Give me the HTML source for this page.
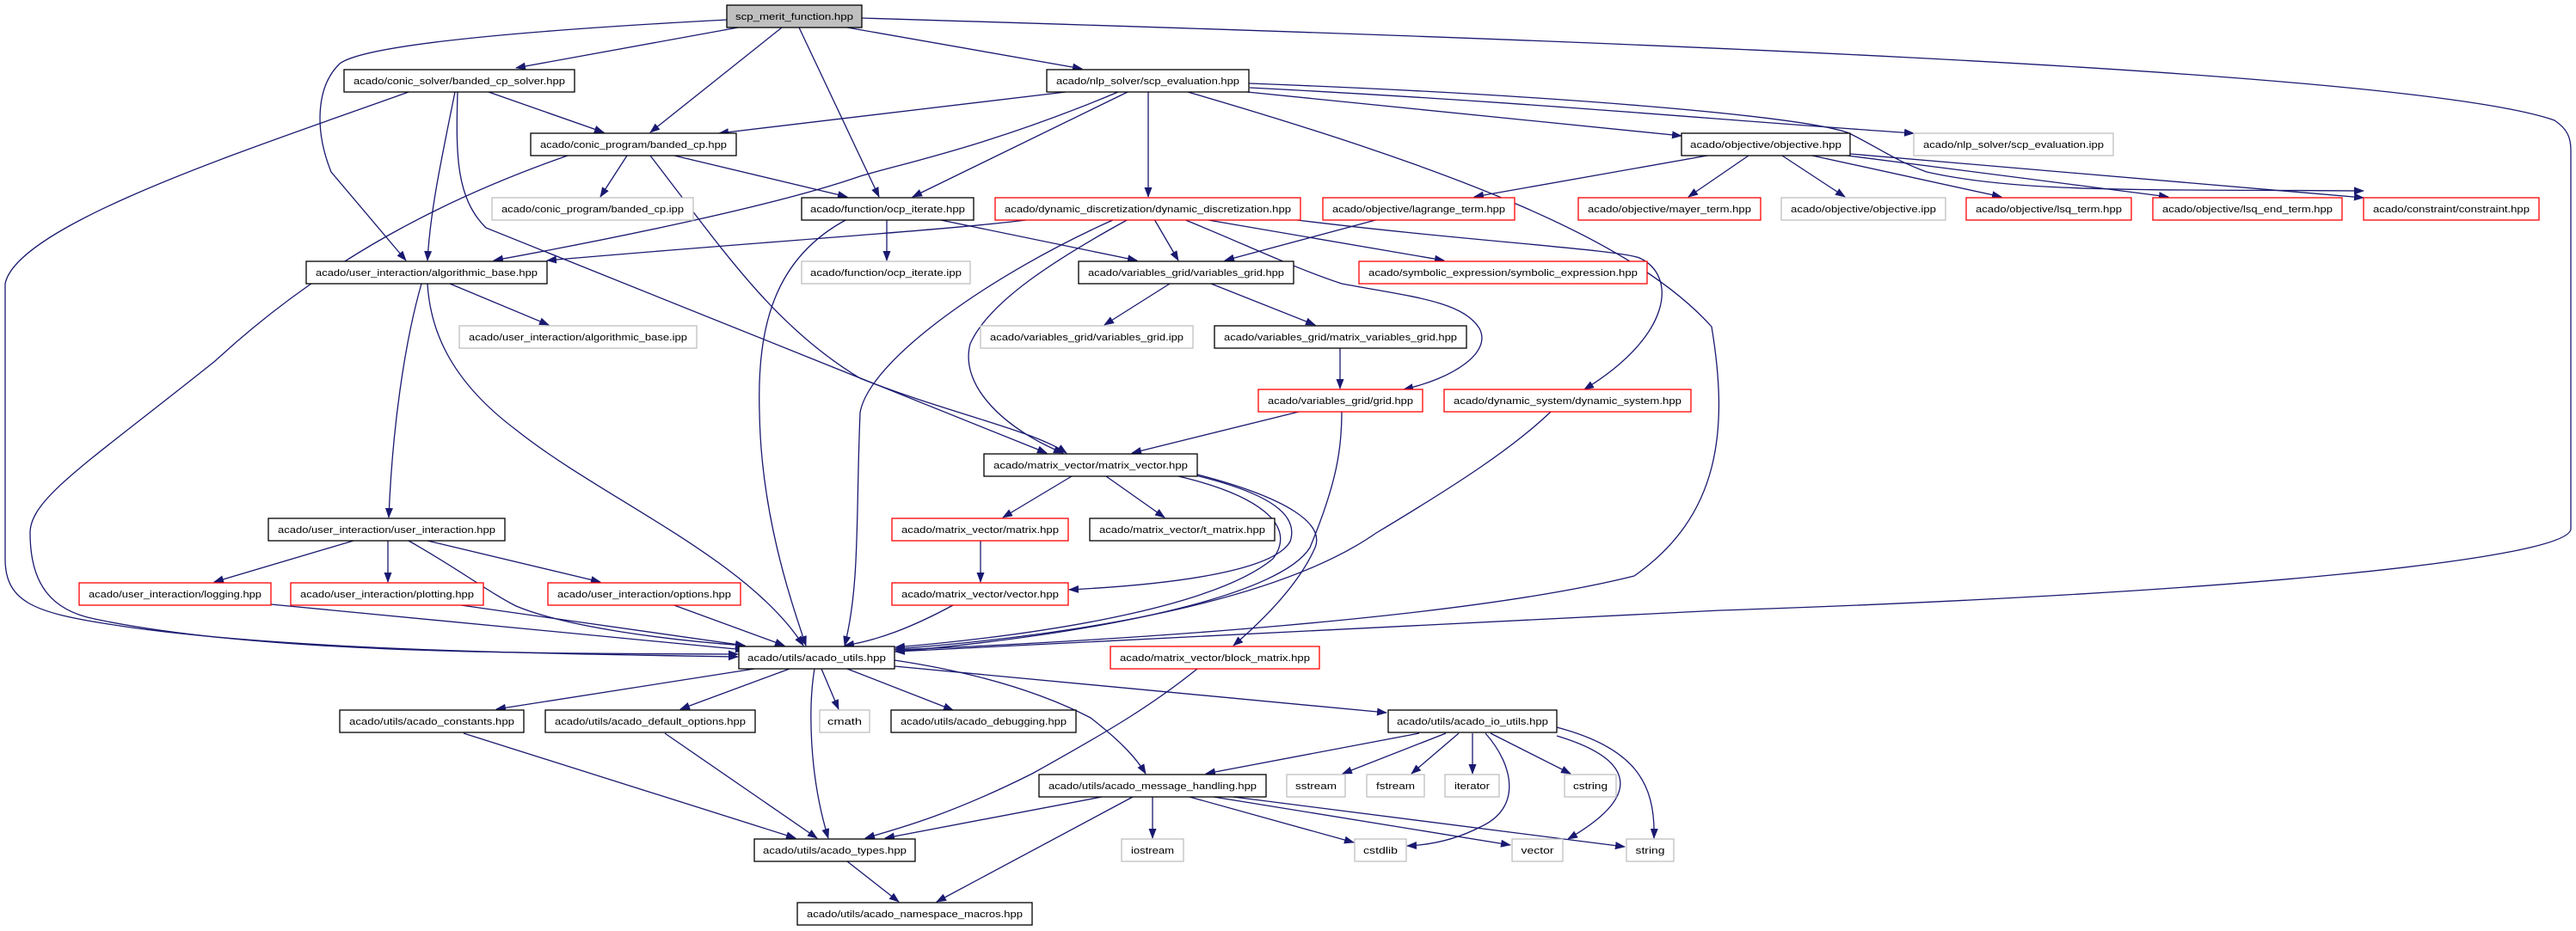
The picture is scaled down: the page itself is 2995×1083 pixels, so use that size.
<!DOCTYPE html>
<html><head><meta charset="utf-8"><style>
html,body{margin:0;padding:0;background:#fff;}
svg{display:block;}
text{font-family:"Liberation Sans",sans-serif;font-size:11px;fill:#000;}
.e{fill:none;stroke:#191970;stroke-width:1.3;}
.n{fill:#fff;stroke:#000;stroke-width:1.3;}
.r{fill:#fff;stroke:#ff0000;stroke-width:1.3;}
.g{fill:#fff;stroke:#bfbfbf;stroke-width:1.3;}
</style></head><body>
<svg width="2995" height="1083" viewBox="0 0 2995 1083" xmlns="http://www.w3.org/2000/svg">
<defs><marker id="a" markerUnits="userSpaceOnUse" markerWidth="12" markerHeight="9" refX="11" refY="4.5" orient="auto"><path d="M0,0 L12,4.5 L0,9 z" fill="#191970"/></marker></defs>
<g class="e" marker-end="url(#a)">
<path d="M858,32 L600,79"/>
<path d="M909,32 L756,154"/>
<path d="M929,32 L1022,229"/>
<path d="M845,23 C560,38 420,55 395,74 C368,100 365,150 385,200 L472,303"/>
<path d="M985,32 L1258,80"/>
<path d="M1002,21 C1800,45 2800,80 2970,140 C2985,150 2989,160 2989,175 L2989,615 C2989,650 2600,690 2000,710 L1041,758"/>
<path d="M568,107 L702,154"/>
<path d="M529,107 C510,200 500,250 497,303"/>
<path d="M532,107 C530,180 530,230 565,265 L1217,527"/>
<path d="M475,107 C300,170 20,260 6,330 L6,650 C6,700 40,712 120,725 C300,755 600,760 858,764"/>
<path d="M660,181 C520,230 380,300 250,420 C100,540 35,580 35,620 C35,680 60,710 110,720 C300,760 600,760 858,761"/>
<path d="M729,181 L698,229"/>
<path d="M784,181 L985,229"/>
<path d="M756,181 C840,290 900,380 1000,440 C1100,480 1200,500 1240,527"/>
<path d="M1239,107 L836,155"/>
<path d="M1300,107 C1150,170 1050,190 1000,205 C900,240 700,280 574,303"/>
<path d="M1311,107 L1061,229"/>
<path d="M1335,107 L1335,229"/>
<path d="M1381,107 C1700,200 1900,280 1990,380 C2010,500 2000,600 1900,670 C1700,720 1300,745 1041,756"/>
<path d="M1450,107 L1955,158"/>
<path d="M1453,102 C1800,120 2000,140 2225,155"/>
<path d="M1452,97 C1800,110 2100,135 2150,155 C2190,175 2200,185 2240,200 C2350,225 2500,220 2748,222"/>
<path d="M1985,181 L1714,229"/>
<path d="M2033,181 L1963,229"/>
<path d="M2072,181 L2145,229"/>
<path d="M2107,181 L2327,229"/>
<path d="M2148,181 L2521,229"/>
<path d="M2151,179 L2748,230"/>
<path d="M1031,255 L1031,303"/>
<path d="M1089,255 L1322,303"/>
<path d="M985,255 C900,300 880,380 883,480 C885,600 920,700 937,751"/>
<path d="M1201,255 C1100,268 900,280 636,303"/>
<path d="M1342,255 L1370,303"/>
<path d="M1399,255 L1679,303"/>
<path d="M1376,255 C1450,285 1500,310 1560,330 C1640,345 1700,350 1720,382 C1735,410 1690,440 1632,453"/>
<path d="M1500,255 C1700,280 1880,290 1906,300 C1950,320 1945,390 1842,453"/>
<path d="M1312,255 C1230,300 1150,350 1128,400 C1115,450 1170,500 1236,527"/>
<path d="M1296,255 C1150,320 1010,420 1000,480 C995,600 1000,680 982,751"/>
<path d="M1603,255 L1424,303"/>
<path d="M1360,330 L1284,378"/>
<path d="M1408,330 L1529,378"/>
<path d="M1558,405 L1558,452"/>
<path d="M1510,479 L1316,527"/>
<path d="M1560,479 C1560,520 1555,560 1523,637 C1490,690 1300,735 1041,758"/>
<path d="M1803,479 C1760,520 1700,560 1600,620 C1500,690 1300,735 1041,755"/>
<path d="M523,330 L638,378"/>
<path d="M490,330 C470,400 456,500 452,602"/>
<path d="M497,330 C500,380 520,440 600,500 C700,580 870,650 934,751"/>
<path d="M1246,554 L1166,602"/>
<path d="M1286,554 L1354,602"/>
<path d="M1390,553 C1480,575 1510,600 1500,630 C1480,665 1360,680 1243,686"/>
<path d="M1370,554 C1460,575 1510,610 1480,650 C1420,700 1250,735 1041,753"/>
<path d="M1392,552 C1500,580 1540,610 1529,637 C1510,680 1470,720 1434,751"/>
<path d="M1140,629 L1140,677"/>
<path d="M1108,704 C1060,730 1020,745 982,751"/>
<path d="M411,629 L249,677"/>
<path d="M451,629 L451,677"/>
<path d="M497,629 L698,677"/>
<path d="M475,629 C530,660 570,690 600,705 C660,730 780,745 866,751"/>
<path d="M315,703 L866,756"/>
<path d="M529,703 L866,751"/>
<path d="M781,703 L912,751"/>
<path d="M1392,778 C1340,820 1290,850 1200,900 C1100,950 1040,965 1006,975"/>
<path d="M877,778 L577,825"/>
<path d="M918,778 L791,825"/>
<path d="M955,778 L975,825"/>
<path d="M985,778 L1108,826"/>
<path d="M947,778 C940,820 940,900 963,975"/>
<path d="M1040,768 C1120,780 1200,800 1268,835 C1300,860 1320,880 1332,900"/>
<path d="M1040,775 L1612,829"/>
<path d="M539,853 L925,975"/>
<path d="M773,853 L950,975"/>
<path d="M985,1002 L1045,1049"/>
<path d="M1650,853 L1402,900"/>
<path d="M1681,853 L1561,900"/>
<path d="M1696,853 L1641,900"/>
<path d="M1712,853 L1712,900"/>
<path d="M1733,853 L1826,900"/>
<path d="M1727,853 C1760,890 1770,940 1721,962 C1690,978 1660,983 1636,984"/>
<path d="M1810,856 C1890,880 1920,920 1823,976"/>
<path d="M1810,846 C1900,870 1925,910 1923,975"/>
<path d="M1281,927 L1029,975"/>
<path d="M1317,927 L1089,1049"/>
<path d="M1340,927 L1340,975"/>
<path d="M1383,927 L1574,980"/>
<path d="M1411,927 L1756,983"/>
<path d="M1434,927 L1889,985"/>
</g>
<g>
<rect x="845" y="6" width="157" height="26" fill="#bfbfbf" stroke="#000" stroke-width="1.3"/><text x="923.5" y="23" text-anchor="middle" textLength="137" lengthAdjust="spacingAndGlyphs">scp_merit_function.hpp</text>
<rect class="n" x="400" y="81" width="268" height="26"/><text x="534" y="98" text-anchor="middle" textLength="246" lengthAdjust="spacingAndGlyphs">acado/conic_solver/banded_cp_solver.hpp</text>
<rect class="n" x="1217" y="81" width="235" height="26"/><text x="1334.5" y="98" text-anchor="middle" textLength="213" lengthAdjust="spacingAndGlyphs">acado/nlp_solver/scp_evaluation.hpp</text>
<rect class="n" x="617" y="155" width="239" height="26"/><text x="736.5" y="172" text-anchor="middle" textLength="217" lengthAdjust="spacingAndGlyphs">acado/conic_program/banded_cp.hpp</text>
<rect class="n" x="1955" y="155" width="196" height="26"/><text x="2053" y="172" text-anchor="middle" textLength="176" lengthAdjust="spacingAndGlyphs">acado/objective/objective.hpp</text>
<rect class="g" x="2225" y="155" width="232" height="26"/><text x="2341" y="172" text-anchor="middle" textLength="210" lengthAdjust="spacingAndGlyphs">acado/nlp_solver/scp_evaluation.ipp</text>
<rect class="g" x="572" y="230" width="234" height="26"/><text x="689" y="247" text-anchor="middle" textLength="212" lengthAdjust="spacingAndGlyphs">acado/conic_program/banded_cp.ipp</text>
<rect class="n" x="932" y="230" width="200" height="26"/><text x="1032" y="247" text-anchor="middle" textLength="180" lengthAdjust="spacingAndGlyphs">acado/function/ocp_iterate.hpp</text>
<rect class="r" x="1157" y="230" width="355" height="26"/><text x="1334.5" y="247" text-anchor="middle" textLength="333" lengthAdjust="spacingAndGlyphs">acado/dynamic_discretization/dynamic_discretization.hpp</text>
<rect class="r" x="1538" y="230" width="223" height="26"/><text x="1649.5" y="247" text-anchor="middle" textLength="201" lengthAdjust="spacingAndGlyphs">acado/objective/lagrange_term.hpp</text>
<rect class="r" x="1835" y="230" width="212" height="26"/><text x="1941" y="247" text-anchor="middle" textLength="190" lengthAdjust="spacingAndGlyphs">acado/objective/mayer_term.hpp</text>
<rect class="g" x="2071" y="230" width="191" height="26"/><text x="2166.5" y="247" text-anchor="middle" textLength="169" lengthAdjust="spacingAndGlyphs">acado/objective/objective.ipp</text>
<rect class="r" x="2286" y="230" width="192" height="26"/><text x="2382" y="247" text-anchor="middle" textLength="170" lengthAdjust="spacingAndGlyphs">acado/objective/lsq_term.hpp</text>
<rect class="r" x="2503" y="230" width="220" height="26"/><text x="2613" y="247" text-anchor="middle" textLength="198" lengthAdjust="spacingAndGlyphs">acado/objective/lsq_end_term.hpp</text>
<rect class="r" x="2748" y="230" width="204" height="26"/><text x="2850" y="247" text-anchor="middle" textLength="182" lengthAdjust="spacingAndGlyphs">acado/constraint/constraint.hpp</text>
<rect class="n" x="356" y="304" width="280" height="26"/><text x="496" y="321" text-anchor="middle" textLength="258" lengthAdjust="spacingAndGlyphs">acado/user_interaction/algorithmic_base.hpp</text>
<rect class="g" x="932" y="304" width="196" height="26"/><text x="1030" y="321" text-anchor="middle" textLength="176" lengthAdjust="spacingAndGlyphs">acado/function/ocp_iterate.ipp</text>
<rect class="n" x="1254" y="304" width="250" height="26"/><text x="1379" y="321" text-anchor="middle" textLength="228" lengthAdjust="spacingAndGlyphs">acado/variables_grid/variables_grid.hpp</text>
<rect class="r" x="1580" y="304" width="335" height="26"/><text x="1747.5" y="321" text-anchor="middle" textLength="313" lengthAdjust="spacingAndGlyphs">acado/symbolic_expression/symbolic_expression.hpp</text>
<rect class="g" x="534" y="379" width="276" height="26"/><text x="672" y="396" text-anchor="middle" textLength="254" lengthAdjust="spacingAndGlyphs">acado/user_interaction/algorithmic_base.ipp</text>
<rect class="g" x="1140" y="379" width="247" height="26"/><text x="1263.5" y="396" text-anchor="middle" textLength="225" lengthAdjust="spacingAndGlyphs">acado/variables_grid/variables_grid.ipp</text>
<rect class="n" x="1412" y="379" width="293" height="26"/><text x="1558.5" y="396" text-anchor="middle" textLength="271" lengthAdjust="spacingAndGlyphs">acado/variables_grid/matrix_variables_grid.hpp</text>
<rect class="r" x="1463" y="453" width="191" height="26"/><text x="1558.5" y="470" text-anchor="middle" textLength="169" lengthAdjust="spacingAndGlyphs">acado/variables_grid/grid.hpp</text>
<rect class="r" x="1679" y="453" width="287" height="26"/><text x="1822.5" y="470" text-anchor="middle" textLength="265" lengthAdjust="spacingAndGlyphs">acado/dynamic_system/dynamic_system.hpp</text>
<rect class="n" x="1144" y="528" width="248" height="26"/><text x="1268" y="545" text-anchor="middle" textLength="226" lengthAdjust="spacingAndGlyphs">acado/matrix_vector/matrix_vector.hpp</text>
<rect class="n" x="312" y="603" width="275" height="26"/><text x="449.5" y="620" text-anchor="middle" textLength="253" lengthAdjust="spacingAndGlyphs">acado/user_interaction/user_interaction.hpp</text>
<rect class="r" x="1037" y="603" width="205" height="26"/><text x="1139.5" y="620" text-anchor="middle" textLength="183" lengthAdjust="spacingAndGlyphs">acado/matrix_vector/matrix.hpp</text>
<rect class="n" x="1267" y="603" width="215" height="26"/><text x="1374.5" y="620" text-anchor="middle" textLength="193" lengthAdjust="spacingAndGlyphs">acado/matrix_vector/t_matrix.hpp</text>
<rect class="r" x="92" y="678" width="223" height="26"/><text x="203.5" y="695" text-anchor="middle" textLength="201" lengthAdjust="spacingAndGlyphs">acado/user_interaction/logging.hpp</text>
<rect class="r" x="338" y="678" width="224" height="26"/><text x="450" y="695" text-anchor="middle" textLength="202" lengthAdjust="spacingAndGlyphs">acado/user_interaction/plotting.hpp</text>
<rect class="r" x="637" y="678" width="224" height="26"/><text x="749" y="695" text-anchor="middle" textLength="202" lengthAdjust="spacingAndGlyphs">acado/user_interaction/options.hpp</text>
<rect class="r" x="1037" y="678" width="205" height="26"/><text x="1139.5" y="695" text-anchor="middle" textLength="183" lengthAdjust="spacingAndGlyphs">acado/matrix_vector/vector.hpp</text>
<rect class="n" x="859" y="752" width="181" height="26"/><text x="949.5" y="769" text-anchor="middle" textLength="161" lengthAdjust="spacingAndGlyphs">acado/utils/acado_utils.hpp</text>
<rect class="r" x="1291" y="752" width="243" height="26"/><text x="1412.5" y="769" text-anchor="middle" textLength="221" lengthAdjust="spacingAndGlyphs">acado/matrix_vector/block_matrix.hpp</text>
<rect class="n" x="395" y="826" width="214" height="26"/><text x="502" y="843" text-anchor="middle" textLength="192" lengthAdjust="spacingAndGlyphs">acado/utils/acado_constants.hpp</text>
<rect class="n" x="634" y="826" width="244" height="26"/><text x="756" y="843" text-anchor="middle" textLength="222" lengthAdjust="spacingAndGlyphs">acado/utils/acado_default_options.hpp</text>
<rect class="g" x="953" y="826" width="58" height="26"/><text x="982" y="843" text-anchor="middle" textLength="40" lengthAdjust="spacingAndGlyphs">cmath</text>
<rect class="n" x="1036" y="826" width="215" height="26"/><text x="1143.5" y="843" text-anchor="middle" textLength="193" lengthAdjust="spacingAndGlyphs">acado/utils/acado_debugging.hpp</text>
<rect class="n" x="1614" y="826" width="196" height="26"/><text x="1712" y="843" text-anchor="middle" textLength="176" lengthAdjust="spacingAndGlyphs">acado/utils/acado_io_utils.hpp</text>
<rect class="n" x="1208" y="901" width="264" height="26"/><text x="1340" y="918" text-anchor="middle" textLength="242" lengthAdjust="spacingAndGlyphs">acado/utils/acado_message_handling.hpp</text>
<rect class="g" x="1496" y="901" width="68" height="26"/><text x="1530" y="918" text-anchor="middle" textLength="48" lengthAdjust="spacingAndGlyphs">sstream</text>
<rect class="g" x="1589" y="901" width="67" height="26"/><text x="1622.5" y="918" text-anchor="middle" textLength="45" lengthAdjust="spacingAndGlyphs">fstream</text>
<rect class="g" x="1680" y="901" width="63" height="26"/><text x="1711.5" y="918" text-anchor="middle" textLength="41" lengthAdjust="spacingAndGlyphs">iterator</text>
<rect class="g" x="1819" y="901" width="60" height="26"/><text x="1849" y="918" text-anchor="middle" textLength="40" lengthAdjust="spacingAndGlyphs">cstring</text>
<rect class="n" x="877" y="976" width="187" height="26"/><text x="970.5" y="993" text-anchor="middle" textLength="167" lengthAdjust="spacingAndGlyphs">acado/utils/acado_types.hpp</text>
<rect class="g" x="1304" y="976" width="72" height="26"/><text x="1340" y="993" text-anchor="middle" textLength="50" lengthAdjust="spacingAndGlyphs">iostream</text>
<rect class="g" x="1575" y="976" width="60" height="26"/><text x="1605" y="993" text-anchor="middle" textLength="40" lengthAdjust="spacingAndGlyphs">cstdlib</text>
<rect class="g" x="1758" y="976" width="59" height="26"/><text x="1787.5" y="993" text-anchor="middle" textLength="38" lengthAdjust="spacingAndGlyphs">vector</text>
<rect class="g" x="1891" y="976" width="55" height="26"/><text x="1918.5" y="993" text-anchor="middle" textLength="34" lengthAdjust="spacingAndGlyphs">string</text>
<rect class="n" x="927" y="1050" width="273" height="26"/><text x="1063.5" y="1067" text-anchor="middle" textLength="251" lengthAdjust="spacingAndGlyphs">acado/utils/acado_namespace_macros.hpp</text>
</g>
</svg>
</body></html>
